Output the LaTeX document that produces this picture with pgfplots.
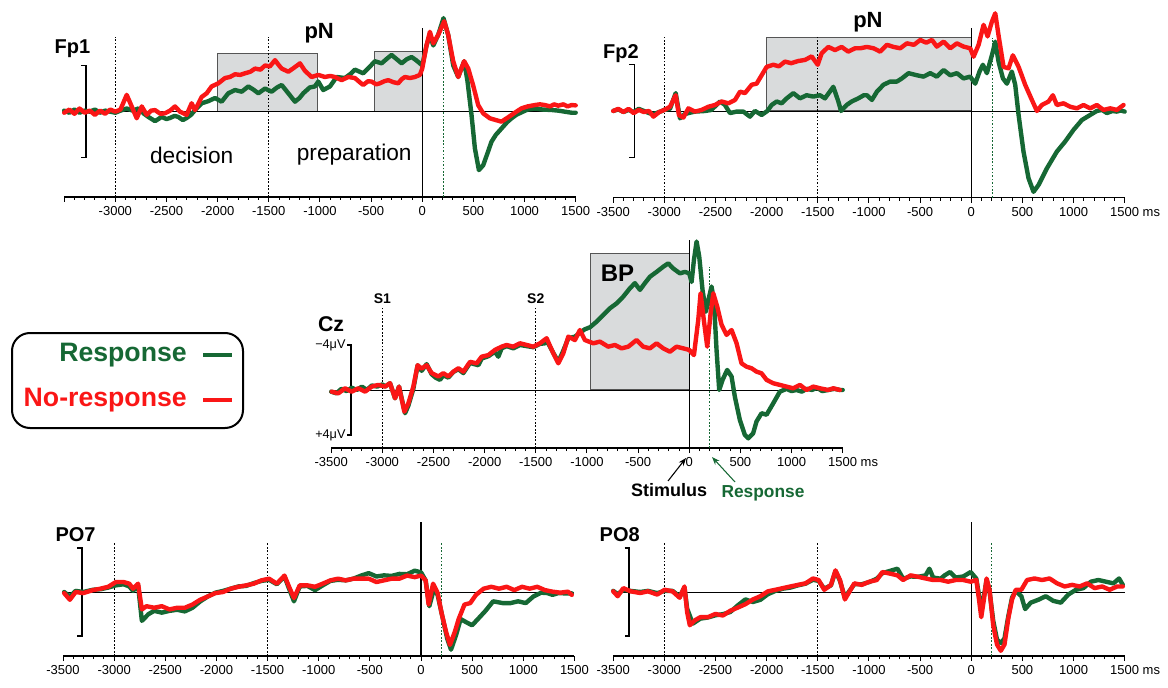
\documentclass[border=0pt]{standalone}
\usepackage{fontspec}
\setmainfont{Liberation Sans}
\usepackage{pgfplots}
\pgfplotsset{compat=1.18}
\usetikzlibrary{arrows.meta}
\definecolor{rgreen}{RGB}{22,104,52}
\definecolor{rred}{RGB}{250,22,22}
\definecolor{boxgray}{RGB}{217,219,220}
\definecolor{boxedge}{RGB}{85,85,85}
\pgfplotsset{
  panel/.style={scale only axis, width=383.6pt, xmin=-3500, xmax=1500,
    axis x line*=bottom, axis y line=none, ytick=\empty,
    xtick={-3500,-3000,...,1500}, minor x tick num=4,
    tick align=outside, major tick length=3.75pt, minor tick length=2.25pt,
    enlargelimits=false, clip=false,
    ticklabel style={font=\fontsize{9.75}{10}\selectfont},
    xticklabels={-3500,-3000,-2500,-2000,-1500,-1000,-500,0,500,1000,1500},
    axis line style={line width=0.8pt},
    tick style={black, line width=0.7pt},
    anchor=south west},
  gtrace/.style={draw=rgreen, line width=3.3pt, line join=round, line cap=round},
  rtrace/.style={draw=rred, line width=3.3pt, line join=round, line cap=round},
}
\tikzset{
  zline/.style={black, line width=0.6pt},
  vline/.style={black, line width=0.8pt},
  dline/.style={black, line width=0.7pt, dash pattern=on 1.3pt off 1.3pt},
  gdline/.style={rgreen, line width=0.7pt, dash pattern=on 1.3pt off 1.3pt},
  gbox/.style={fill=boxgray, draw=boxedge, line width=0.8pt},
}
\begin{document}
\begin{tikzpicture}[x=0.75pt,y=0.75pt]
\coordinate (P1) at (64.2,490);
\coordinate (P2) at (613.2,489.3);
\coordinate (P3) at (331.2,239);
\coordinate (P4) at (63,31);
\coordinate (P5) at (613.2,31);

% ---------------- Fp1 ----------------
\begin{axis}[panel, at={(P1)}, height=136.5pt, ymin=-8.12, ymax=9.2,
  xticklabels={,-3000,-2500,-2000,-1500,-1000,-500,0,500,1000,1500}]
\draw[gbox] (axis cs:-2000,0) rectangle (axis cs:-1020,5.5);
\draw[gbox] (axis cs:-469,0) rectangle (axis cs:0,5.7);
\draw[zline] (axis cs:-3500,0) -- (axis cs:1500,0);
\draw[vline] (axis cs:0,-8.12) -- (axis cs:0,7.94);
\draw[dline] (axis cs:-3000,-8.12) -- (axis cs:-3000,7.14);
\draw[dline] (axis cs:-1500,-8.12) -- (axis cs:-1500,7.14);
\draw[gdline] (axis cs:210,-8.12) -- (axis cs:210,7.78);
\draw[black, line width=0.8pt] (axis cs:-3336,4.4) -- (axis cs:-3287,4.4) -- (axis cs:-3287,-4.4) -- (axis cs:-3336,-4.4);
\addplot[gtrace] coordinates {
(-3500,0.1)(-3450,-0.1)(-3400,0.2)(-3350,-0.1)(-3300,0.1)(-3250,0.0)(-3200,0.2)(-3150,-0.1)(-3100,0.1)(-3050,0.0)
(-3000,-0.1)(-2950,0.1)(-2889,0.3)(-2830,0.1)(-2775,0.3)(-2720,-0.2)(-2677,-0.5)(-2612,-0.9)(-2547,-0.5)(-2500,-0.7)
(-2466,-0.6)(-2420,-0.4)(-2385,-0.5)(-2340,-0.8)(-2303,-0.6)(-2260,-0.3)(-2221,0.15)(-2156,0.8)(-2091,1.0)(-2026,1.3)
(-1961,0.95)(-1896,1.75)(-1830,2.06)(-1765,1.9)(-1700,2.4)(-1650,2.1)(-1602,1.75)(-1537,2.2)(-1472,1.9)(-1420,2.3)
(-1374,2.54)(-1309,1.75)(-1244,0.95)(-1200,1.3)(-1163,1.75)(-1100,2.3)(-1050,2.4)(-1016,2.86)(-968,2.06)(-902,2.4)
(-837,3.3)(-756,3.2)(-700,3.6)(-658,4.0)(-577,3.65)(-520,4.2)(-463,4.8)(-397,4.6)(-350,5.0)(-300,5.4)
(-250,5.0)(-202,4.6)(-150,5.0)(-104,5.2)(-60,4.9)(-23,4.6)(0,4.4)(42,6.3)(75,7.3)(108,6.3)
(156,7.3)(208,8.9)(254,7.3)(303,4.4)(352,3.3)(410,4.8)(443,2.86)(482,-0.32)(515,-3.5)(554,-5.56)
(596,-5.1)(640,-3.9)(677,-2.86)(720,-2.2)(775,-1.6)(830,-1.0)(873,-0.63)(920,-0.3)(971,-0.06)(1030,0.2)
(1101,0.3)(1180,0.2)(1264,0.16)(1330,0.1)(1394,0.0)(1460,-0.1)(1500,-0.1)};
\addplot[rtrace] coordinates {
(-3500,-0.1)(-3450,0.2)(-3400,-0.2)(-3350,0.3)(-3300,-0.1)(-3250,0.1)(-3200,-0.3)(-3150,0.1)(-3100,-0.2)(-3050,0.2)
(-3000,0.0)(-2950,0.2)(-2889,1.6)(-2840,0.5)(-2791,-0.63)(-2742,0.5)(-2693,-0.3)(-2650,0.1)(-2612,0.15)(-2560,-0.2)
(-2514,-0.15)(-2465,0.1)(-2417,0.5)(-2368,0.0)(-2303,-0.3)(-2254,0.8)(-2221,0.15)(-2156,1.4)(-2107,1.75)(-2059,2.4)
(-1993,2.7)(-1928,3.2)(-1880,3.3)(-1830,3.56)(-1780,3.5)(-1733,3.65)(-1680,3.8)(-1635,4.1)(-1580,4.0)(-1537,4.4)
(-1490,4.3)(-1439,4.9)(-1400,4.4)(-1374,4.1)(-1309,3.8)(-1250,4.2)(-1195,4.6)(-1147,3.9)(-1082,3.3)(-1016,3.5)
(-951,3.3)(-900,3.4)(-854,3.3)(-788,3.0)(-723,3.3)(-658,3.2)(-610,2.8)(-577,2.54)(-530,2.9)(-495,2.86)
(-450,2.6)(-414,2.7)(-370,2.9)(-332,3.0)(-280,2.8)(-235,2.7)(-200,3.1)(-169,3.3)(-120,3.2)(-72,3.3)
(-23,3.5)(0,4.1)(42,6.3)(75,7.6)(108,6.5)(156,7.3)(215,8.6)(254,7.3)(303,4.8)(352,3.3)
(410,4.8)(450,4.1)(498,2.5)(547,0.63)(596,-0.16)(661,-0.63)(720,-0.8)(775,-0.95)(830,-0.6)(873,-0.32)
(920,0.0)(971,0.32)(1030,0.5)(1101,0.63)(1150,0.7)(1199,0.63)(1250,0.5)(1290,0.7)(1329,0.57)(1380,0.7)
(1420,0.5)(1460,0.63)(1500,0.6)};
\node[font=\fontsize{15}{18}\selectfont\bfseries] at (axis cs:-3419,5.97) {Fp1};
\node[font=\fontsize{16.5}{20}\selectfont\bfseries] at (axis cs:-1007,7.5) {pN};
\node[font=\fontsize{17}{20}\selectfont] at (axis cs:-2254,-4.12) {decision};
\node[font=\fontsize{17}{20}\selectfont] at (axis cs:-665,-4.12) {preparation};
\end{axis}

% ---------------- Fp2 ----------------
\begin{axis}[panel, at={(P2)}, height=142.3pt, ymin=-8.26, ymax=9.81,
  xticklabels={-3500,-3000,-2500,-2000,-1500,-1000,-500,0,500,1000,1500\rlap{ ms}}]
\draw[gbox] (axis cs:-2000,0) rectangle (axis cs:0,7.0);
\draw[zline] (axis cs:-3500,0) -- (axis cs:1500,0);
\draw[vline] (axis cs:0,-8.26) -- (axis cs:0,7.9);
\draw[dline] (axis cs:-3000,-8.26) -- (axis cs:-3000,7.05);
\draw[dline] (axis cs:-1500,-8.26) -- (axis cs:-1500,7.05);
\draw[gdline] (axis cs:206,-8.26) -- (axis cs:206,6.95);
\draw[black, line width=0.8pt] (axis cs:-3342,4.4) -- (axis cs:-3293,4.4) -- (axis cs:-3293,-4.4) -- (axis cs:-3342,-4.4);
\addplot[gtrace] coordinates {
(-3500,0.0)(-3450,0.15)(-3400,-0.1)(-3350,0.1)(-3300,-0.1)(-3250,0.2)(-3200,0.0)(-3150,-0.2)(-3107,-0.3)(-3050,-0.1)
(-3000,0.1)(-2945,0.2)(-2889,1.7)(-2847,-0.7)(-2800,-0.3)(-2765,-0.2)(-2700,-0.06)(-2600,0.0)(-2540,0.1)(-2456,0.9)
(-2410,0.6)(-2358,-0.2)(-2293,-0.06)(-2228,-0.06)(-2163,-0.54)(-2114,0.0)(-2049,-0.38)(-1993,0.0)(-1951,0.57)(-1902,0.9)
(-1853,0.73)(-1804,1.2)(-1739,1.7)(-1674,1.2)(-1609,1.5)(-1544,1.37)(-1479,1.5)(-1430,1.2)(-1348,2.3)(-1299,0.9)
(-1273,0.0)(-1218,0.57)(-1169,0.9)(-1104,1.2)(-1050,1.5)(-1020,1.5)(-971,1.05)(-922,1.84)(-857,2.5)(-792,2.8)
(-727,2.8)(-678,3.1)(-613,3.6)(-531,3.4)(-466,3.27)(-401,3.6)(-336,3.27)(-270,3.9)(-205,3.4)(-140,3.6)
(-75,3.1)(-10,3.27)(39,2.6)(81,3.75)(114,4.4)(153,3.6)(202,5.3)(235,6.6)(267,4.7)(310,3.1)
(349,2.6)(397,3.75)(430,2.5)(463,-0.38)(511,-3.87)(560,-6.4)(609,-7.7)(658,-7.05)(740,-5.46)(837,-3.87)
(919,-2.9)(1000,-1.8)(1082,-0.86)(1163,-0.38)(1228,0.0)(1280,0.1)(1326,-0.2)(1380,0.0)(1424,-0.06)(1460,0.05)(1500,-0.06)};
\addplot[rtrace] coordinates {
(-3500,0.0)(-3450,0.2)(-3400,-0.1)(-3350,0.2)(-3300,-0.2)(-3250,0.1)(-3200,-0.1)(-3150,0.0)(-3107,-0.54)(-3050,-0.1)
(-3000,0.1)(-2945,0.4)(-2889,1.5)(-2857,-0.4)(-2814,-0.63)(-2765,0.25)(-2700,-0.06)(-2635,0.1)(-2570,0.4)(-2505,0.57)
(-2440,0.9)(-2374,0.73)(-2309,1.05)(-2260,1.84)(-2212,1.7)(-2146,2.5)(-2098,2.6)(-2049,3.4)(-2000,4.2)(-1935,4.4)
(-1880,4.25)(-1821,4.7)(-1760,4.55)(-1690,4.76)(-1625,4.86)(-1560,5.2)(-1501,4.4)(-1462,5.5)(-1397,6.1)(-1332,5.8)
(-1267,6.1)(-1202,5.65)(-1136,5.97)(-1085,5.97)(-1020,6.1)(-955,5.97)(-890,5.65)(-824,6.3)(-760,6.1)(-694,5.97)
(-629,6.44)(-560,6.3)(-498,6.76)(-440,6.5)(-384,6.76)(-336,6.13)(-270,6.6)(-205,5.97)(-140,6.44)(-75,6.13)
(-10,5.97)(23,5.17)(72,6.3)(121,8.2)(160,7.1)(202,8.5)(235,9.3)(267,7.2)(316,4.2)(365,4.06)
(407,5.3)(463,4.2)(528,2.48)(593,1.05)(642,0.0)(691,0.57)(756,0.9)(798,1.5)(837,0.57)(902,0.73)
(968,0.4)(1033,0.25)(1098,0.57)(1163,0.25)(1228,0.57)(1293,0.1)(1359,0.25)(1424,0.1)(1489,0.57)};
\node[font=\fontsize{15}{18}\selectfont\bfseries] at (axis cs:-3425,5.43) {Fp2};
\node[font=\fontsize{16.5}{20}\selectfont\bfseries] at (axis cs:-1010,8.48) {pN};
\end{axis}

% ---------------- Cz ----------------
\begin{axis}[panel, at={(P3)}, height=159.75pt, ymin=-5.16, ymax=13.78,
  xticklabels={-3500,-3000,-2500,-2000,-1500,-1000,-500,0,500,1000,1500\rlap{ ms}}]
\draw[gbox] (axis cs:-965,0) rectangle (axis cs:0,12.1);
\draw[zline] (axis cs:-3500,0) -- (axis cs:1500,0);
\draw[vline] (axis cs:0,-5.16) -- (axis cs:0,13.3);
\draw[dline] (axis cs:-3000,-5.16) -- (axis cs:-3000,7.4);
\draw[dline] (axis cs:-1500,-5.16) -- (axis cs:-1500,7.4);
\draw[gdline] (axis cs:200,-5.16) -- (axis cs:200,10.96);
\draw[black, line width=1.2pt] (axis cs:-3345,4) -- (axis cs:-3306,4) -- (axis cs:-3306,-4) -- (axis cs:-3345,-4);
\addplot[gtrace] coordinates {
(-3500,-0.15)(-3450,-0.3)(-3400,0.1)(-3350,-0.1)(-3300,0.2)(-3250,0.0)(-3200,0.3)(-3150,0.0)(-3104,0.4)(-3050,0.3)
(-3000,0.5)(-2974,0.3)(-2925,0.6)(-2876,-0.74)(-2837,0.3)(-2778,-2.07)(-2746,-1.4)(-2697,0.1)(-2655,2.2)(-2616,1.7)
(-2567,2.3)(-2518,1.4)(-2480,1.1)(-2436,0.9)(-2404,1.3)(-2355,1.1)(-2306,1.6)(-2257,1.85)(-2208,1.5)(-2143,2.4)
(-2062,2.2)(-2029,2.8)(-1964,3.0)(-1899,3.4)(-1866,2.96)(-1834,3.7)(-1785,3.9)(-1720,3.7)(-1654,4.0)(-1589,3.9)
(-1524,3.8)(-1459,4.1)(-1410,4.15)(-1394,4.4)(-1329,3.3)(-1280,2.5)(-1231,3.5)(-1182,4.6)(-1117,4.74)(-1052,5.2)
(-1020,5.4)(-971,5.57)(-906,6.07)(-841,6.67)(-775,7.26)(-710,7.7)(-645,8.3)(-580,9.04)(-531,9.5)(-482,8.9)
(-433,9.5)(-384,10.07)(-319,10.5)(-254,10.96)(-205,11.26)(-156,10.8)(-91,10.37)(-42,10.5)(0,10.37)(23,9.6)
(46,11.56)(72,13.2)(98,11.85)(130,8.9)(163,6.96)(195,8.3)(218,9.2)(241,8.0)(267,3.56)(293,0.0)
(326,0.9)(371,1.78)(414,1.19)(446,-0.6)(495,-2.67)(544,-4.0)(577,-4.3)(625,-3.85)(658,-2.8)(707,-2.07)
(756,-2.2)(821,-1.19)(886,-0.15)(951,0.1)(1000,-0.1)(1049,0.0)(1100,-0.15)(1150,0.1)(1200,0.0)(1250,0.2)
(1300,-0.1)(1359,0.0)(1420,0.1)(1473,0.0)(1500,0.0)};
\addplot[rtrace] coordinates {
(-3495,-0.15)(-3430,-0.3)(-3365,0.15)(-3300,-0.15)(-3235,0.15)(-3169,-0.15)(-3104,0.3)(-3039,0.45)(-2974,0.3)(-2925,0.6)
(-2876,-0.74)(-2837,0.3)(-2785,-1.93)(-2746,-1.2)(-2697,0.3)(-2655,2.2)(-2616,1.9)(-2567,2.2)(-2518,1.5)(-2453,1.2)
(-2404,1.5)(-2355,1.2)(-2306,1.63)(-2257,1.93)(-2208,1.63)(-2143,2.5)(-2078,2.37)(-2029,2.96)(-1964,3.1)(-1899,3.56)
(-1834,3.85)(-1785,4.0)(-1720,3.85)(-1654,4.15)(-1589,4.0)(-1524,3.85)(-1459,4.15)(-1394,4.6)(-1329,3.26)(-1280,2.37)
(-1231,3.26)(-1182,4.74)(-1117,4.44)(-1069,5.33)(-1020,4.44)(-938,4.15)(-873,4.3)(-792,3.85)(-727,4.0)(-661,3.7)
(-596,3.85)(-515,4.44)(-450,3.85)(-384,3.7)(-319,4.15)(-254,3.7)(-189,3.4)(-124,3.85)(-59,3.7)(0,3.56)
(46,3.1)(88,6.2)(111,8.6)(143,6.2)(176,3.85)(209,6.8)(235,8.6)(274,7.4)(316,5.8)(365,4.9)
(414,5.33)(463,4.15)(511,2.37)(560,2.07)(609,1.93)(658,1.63)(707,1.48)(756,0.9)(821,0.6)(886,0.45)
(951,0.3)(1016,0.15)(1082,0.45)(1147,0.0)(1212,0.3)(1277,0.15)(1359,0.0)(1407,0.15)(1473,0.0)};
\node[font=\fontsize{16}{19}\selectfont\bfseries] at (axis cs:-3501,5.87) {Cz};
\node[font=\fontsize{10.5}{12}\selectfont\bfseries] at (axis cs:-3000,8.09) {S1};
\node[font=\fontsize{10.5}{12}\selectfont\bfseries] at (axis cs:-1500,8.09) {S2};
\node[font=\fontsize{18}{21}\selectfont\bfseries] at (axis cs:-701,10.36) {BP};
\node[font=\fontsize{9.5}{11}\selectfont, anchor=east, inner sep=1pt] at (axis cs:-3345,4) {−4μV};
\node[font=\fontsize{9.5}{11}\selectfont, anchor=east, inner sep=1pt] at (axis cs:-3345,-4) {+4μV};
\end{axis}

% ---------------- PO7 ----------------
\begin{axis}[panel, at={(P4)}, height=102pt, ymin=-5.77, ymax=6.49]
\draw[zline] (axis cs:-3500,0) -- (axis cs:1500,0);
\draw[vline] (axis cs:0,-5.77) -- (axis cs:0,6.31);
\draw[dline] (axis cs:-3000,-5.77) -- (axis cs:-3000,4.5);
\draw[dline] (axis cs:-1500,-5.77) -- (axis cs:-1500,4.5);
\draw[gdline] (axis cs:200,-5.77) -- (axis cs:200,4.5);
\draw[black, line width=1.6pt] (axis cs:-3360,4) -- (axis cs:-3314,4) -- (axis cs:-3314,-4) -- (axis cs:-3360,-4);
\addplot[gtrace] coordinates {
(-3489,0.0)(-3433,-0.4)(-3376,0.1)(-3302,0.0)(-3208,0.2)(-3133,0.25)(-3058,0.4)(-2983,0.6)(-2908,0.7)(-2852,0.5)
(-2815,0.1)(-2766,0.6)(-2729,-2.6)(-2665,-2.0)(-2609,-1.7)(-2534,-1.86)(-2459,-1.7)(-2384,-1.6)(-2309,-1.75)(-2234,-1.42)
(-2159,-0.85)(-2084,-0.4)(-2010,-0.06)(-1935,0.1)(-1860,0.3)(-1785,0.5)(-1710,0.55)(-1635,0.8)(-1560,1.0)(-1485,1.1)
(-1410,0.7)(-1335,1.4)(-1290,0.3)(-1242,-0.84)(-1186,0.5)(-1111,0.55)(-1036,0.17)(-961,0.6)(-886,1.0)(-811,1.1)
(-736,1.05)(-661,1.2)(-586,1.48)(-511,1.7)(-436,1.4)(-362,1.5)(-287,1.45)(-212,1.63)(-137,1.6)(-62,1.92)
(0,1.77)(45,1.05)(81,-1.28)(130,0.4)(163,-0.3)(207,-2.15)(256,-4.2)(293,-5.2)(342,-3.9)(387,-2.44)
(443,-2.73)(499,-3.0)(556,-2.44)(630,-1.7)(705,-0.84)(799,-1.0)(874,-1.0)(949,-0.84)(1024,-1.0)(1099,-0.4)
(1174,-0.06)(1236,-0.1)(1286,-0.26)(1340,-0.1)(1398,-0.12)(1474,-0.12)};
\addplot[rtrace] coordinates {
(-3489,-0.1)(-3433,-0.7)(-3376,0.0)(-3302,-0.1)(-3208,0.17)(-3133,0.3)(-3058,0.47)(-2983,0.9)(-2908,0.9)(-2852,0.75)
(-2815,0.3)(-2766,0.75)(-2729,-1.57)(-2684,-1.28)(-2609,-1.42)(-2534,-1.28)(-2459,-1.57)(-2384,-1.42)(-2309,-1.42)(-2234,-1.13)
(-2159,-0.7)(-2084,-0.4)(-2010,-0.1)(-1935,0.0)(-1860,0.3)(-1785,0.47)(-1710,0.6)(-1635,0.75)(-1560,1.05)(-1485,1.2)
(-1410,0.75)(-1335,1.48)(-1290,0.47)(-1242,-0.55)(-1186,0.6)(-1111,0.6)(-1036,0.47)(-961,0.75)(-886,1.05)(-811,1.2)
(-736,1.05)(-661,1.2)(-586,1.2)(-511,1.2)(-436,0.9)(-362,1.05)(-287,1.2)(-212,1.2)(-137,1.48)(-62,1.34)
(0,1.48)(45,1.05)(74,-1.13)(118,0.75)(163,-0.1)(200,-1.86)(245,-3.6)(283,-4.77)(330,-3.6)(368,-2.44)
(425,-1.13)(481,-1.0)(537,-0.26)(612,0.3)(687,0.47)(762,0.3)(837,0.47)(912,0.17)(987,0.47)(1062,0.3)
(1136,0.47)(1211,0.17)(1286,0.03)(1361,-0.06)(1436,0.03)(1474,-0.26)};
\node[font=\fontsize{15}{18}\selectfont\bfseries] at (axis cs:-3377,5.14) {PO7};
\end{axis}

% ---------------- PO8 ----------------
\begin{axis}[panel, at={(P5)}, height=102pt, ymin=-5.77, ymax=6.49,
  xticklabels={-3500,-3000,-2500,-2000,-1500,-1000,-500,0,500,1000,1500\rlap{ ms}}]
\draw[zline] (axis cs:-3500,0) -- (axis cs:1500,0);
\draw[vline] (axis cs:0,-5.77) -- (axis cs:0,6.31);
\draw[dline] (axis cs:-3000,-5.77) -- (axis cs:-3000,4.5);
\draw[dline] (axis cs:-1500,-5.77) -- (axis cs:-1500,4.5);
\draw[gdline] (axis cs:200,-5.77) -- (axis cs:200,4.5);
\draw[black, line width=1.6pt] (axis cs:-3389,4) -- (axis cs:-3343,4) -- (axis cs:-3343,-4) -- (axis cs:-3389,-4);
\addplot[gtrace] coordinates {
(-3500,0.1)(-3456,-0.2)(-3401,0.2)(-3330,0.1)(-3236,0.0)(-3160,0.1)(-3070,-0.1)(-2997,0.1)(-2920,0.1)(-2850,-0.4)
(-2803,0.4)(-2777,-1.5)(-2722,-2.85)(-2648,-2.4)(-2575,-2.3)(-2501,-2.1)(-2428,-2.0)(-2355,-1.8)(-2281,-1.2)(-2208,-0.67)
(-2134,-0.9)(-2061,-0.7)(-1988,-0.2)(-1914,0.1)(-1841,0.3)(-1767,0.4)(-1694,0.6)(-1620,0.75)(-1547,1.1)(-1492,1.0)
(-1437,0.3)(-1371,0.6)(-1327,1.9)(-1283,1.0)(-1235,-0.5)(-1198,0.0)(-1143,0.7)(-1070,0.7)(-996,0.9)(-923,1.2)
(-868,1.7)(-795,1.9)(-721,2.1)(-666,1.2)(-593,1.4)(-519,1.37)(-446,1.5)(-409,2.1)(-372,1.3)(-299,1.2)
(-260,1.5)(-207,1.8)(-152,1.3)(-78,1.4)(-5,1.8)(50,1.2)(76,-0.3)(98,-1.5)(124,-0.4)(150,1.1)
(179,0.1)(215,-2.6)(252,-4.3)(289,-4.6)(325,-4.2)(362,-2.2)(399,-0.5)(436,0.1)(490,-0.38)(527,-1.54)
(582,-0.96)(656,-0.7)(729,-0.38)(802,-0.8)(876,-0.96)(949,-0.23)(1023,0.2)(1096,0.35)(1170,0.93)(1243,1.08)
(1316,0.93)(1390,0.78)(1445,1.22)(1482,0.64)};
\addplot[rtrace] coordinates {
(-3500,0.06)(-3456,-0.38)(-3401,0.35)(-3330,0.06)(-3236,-0.09)(-3160,0.06)(-3070,-0.23)(-2997,0.2)(-2920,0.06)(-2850,-0.52)
(-2803,0.5)(-2777,-1.83)(-2751,-3.0)(-2703,-2.56)(-2648,-2.27)(-2575,-2.27)(-2501,-1.98)(-2428,-2.12)(-2355,-1.69)(-2281,-1.4)
(-2208,-1.1)(-2134,-0.67)(-2061,-0.38)(-1988,0.06)(-1914,0.2)(-1841,0.35)(-1767,0.5)(-1694,0.64)(-1620,0.78)(-1547,1.22)
(-1492,1.08)(-1437,0.2)(-1371,0.64)(-1327,1.95)(-1283,1.08)(-1235,-0.67)(-1198,-0.09)(-1143,0.78)(-1070,0.64)(-996,0.93)
(-923,1.08)(-868,1.8)(-795,1.66)(-721,1.5)(-666,1.08)(-593,1.5)(-519,1.37)(-446,1.22)(-372,1.08)(-299,1.08)
(-225,0.93)(-152,1.08)(-78,1.08)(-5,0.93)(50,1.08)(76,-0.67)(98,-2.27)(124,-0.67)(150,1.22)(179,0.2)
(215,-3.0)(252,-4.74)(289,-5.3)(325,-4.74)(362,-2.41)(399,-0.67)(436,0.2)(490,0.2)(546,1.08)(619,1.22)
(692,1.08)(766,1.22)(839,0.78)(913,0.5)(986,0.64)(1060,0.5)(1133,0.78)(1206,0.35)(1280,0.5)(1353,0.2)
(1427,0.5)(1482,0.5)};
\node[font=\fontsize{15}{18}\selectfont\bfseries] at (axis cs:-3436,5.14) {PO8};
\end{axis}

% ---------------- Legend & annotations ----------------
\draw[black, line width=1.5pt, rounded corners=13.5pt] (12,259) rectangle (243,354);
\node[anchor=east, font=\fontsize{20}{24}\selectfont\bfseries, text=rgreen, inner sep=0pt] at (187,332) {Response};
\draw[rgreen, line width=3.2pt] (203,332) -- (232,332);
\node[anchor=east, font=\fontsize{20}{24}\selectfont\bfseries, text=rred, inner sep=0pt] at (187,287) {No-response};
\draw[rred, line width=3.2pt] (203,287) -- (232,287);

\node[font=\fontsize{13.5}{16}\selectfont\bfseries] at (669,197) {Stimulus};
\node[font=\fontsize{13}{16}\selectfont\bfseries, text=rgreen] at (763,193.5) {Response};
\draw[black, line width=0.8pt, -{Stealth[length=6pt,width=4.5pt]}] (668,206) -- (686,229);
\draw[rgreen, line width=0.8pt, -{Stealth[length=6pt,width=4.5pt]}] (735,205) -- (712,230);

\pgfresetboundingbox
\path[use as bounding box] (0,0) rectangle (1168,687);
\end{tikzpicture}
\end{document}
